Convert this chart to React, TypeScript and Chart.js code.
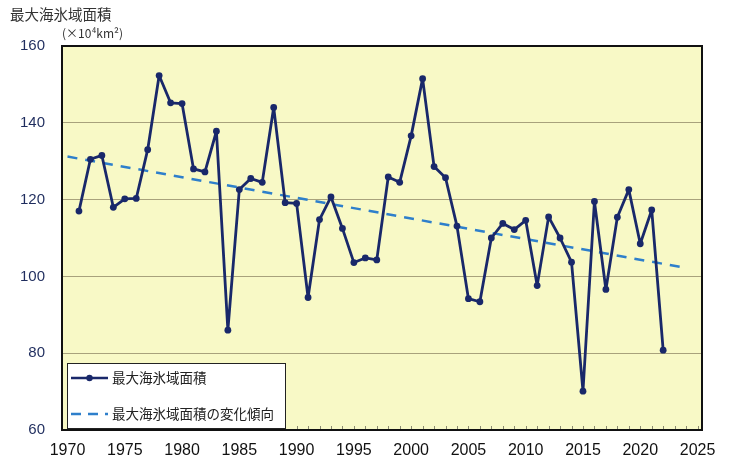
import React, { useEffect, useRef } from "react";
import { Chart, registerables } from "chart.js";

Chart.register(...registerables);

const TITLE = "最大海氷域面積";
const UNIT = "(×10⁴km²)";
const SERIES_LABEL = "最大海氷域面積";
const TREND_LABEL = "最大海氷域面積の変化傾向";

const YEARS = [
  1971, 1972, 1973, 1974, 1975, 1976, 1977, 1978, 1979, 1980,
  1981, 1982, 1983, 1984, 1985, 1986, 1987, 1988, 1989, 1990,
  1991, 1992, 1993, 1994, 1995, 1996, 1997, 1998, 1999, 2000,
  2001, 2002, 2003, 2004, 2005, 2006, 2007, 2008, 2009, 2010,
  2011, 2012, 2013, 2014, 2015, 2016, 2017, 2018, 2019, 2020,
  2021, 2022,
];
const AREAS = [
  117.0, 130.5, 131.5, 118.0, 120.2, 120.3, 133.0, 152.3, 145.2, 145.0,
  128.0, 127.2, 137.8, 86.0, 122.6, 125.5, 124.5, 144.0, 119.2, 119.0,
  94.5, 114.8, 120.7, 112.5, 103.6, 104.8, 104.3, 125.9, 124.5, 136.6,
  151.5, 128.6, 125.7, 113.1, 94.2, 93.4, 110.0, 113.8, 112.2, 114.6,
  97.6, 115.5, 110.0, 103.7, 70.1, 119.5, 96.6, 115.4, 122.6, 108.5,
  117.3, 80.8,
];
const TREND_YEARS = [1970, 2024];
const TREND_VALUES = [131.2, 102.2];
const X_TICKS = [1970, 1975, 1980, 1985, 1990, 1995, 2000, 2005, 2010, 2015, 2020, 2025];
const Y_TICKS = [60, 80, 100, 120, 140, 160];

const NAVY = "#19286a";
const BLUE = "#2e7fcb";
const JP_FONT = '"Noto Sans CJK JP", "Noto Sans", sans-serif';

export default function App() {
  const ref = useRef<HTMLCanvasElement | null>(null);

  useEffect(() => {
    if (!ref.current) return;
    const framePlugin = {
      id: "frame",
      beforeDraw(chart: any) {
        const { ctx, chartArea: a } = chart;
        ctx.save();
        ctx.fillStyle = "#f8f9c6";
        ctx.fillRect(a.left, a.top, a.right - a.left, a.bottom - a.top);
        ctx.restore();
      },
      afterDraw(chart: any) {
        const { ctx, chartArea: a } = chart;
        const xs = chart.scales.x;
        ctx.save();
        // minor year ticks along the bottom
        ctx.strokeStyle = "#8a8a70";
        ctx.lineWidth = 1;
        for (let y = X_TICKS[0]; y <= X_TICKS[X_TICKS.length - 1]; y++) {
          const px = Math.round(xs.getPixelForValue(y)) + 0.5;
          ctx.beginPath();
          ctx.moveTo(px, a.bottom);
          ctx.lineTo(px, a.bottom - 4);
          ctx.stroke();
        }
        // frame
        ctx.strokeStyle = "#111";
        ctx.lineWidth = 2;
        ctx.strokeRect(a.left, a.top, a.right - a.left, a.bottom - a.top);
        // legend
        const lx = a.left + 5;
        const ly = 363;
        const lw = 218;
        const lh = 65;
        ctx.fillStyle = "#ffffff";
        ctx.fillRect(lx, ly, lw, lh);
        ctx.strokeStyle = "#222";
        ctx.lineWidth = 1;
        ctx.strokeRect(lx + 0.5, ly + 0.5, lw, lh);
        const y1 = ly + 15;
        const y2 = ly + 51;
        ctx.strokeStyle = NAVY;
        ctx.lineWidth = 2.5;
        ctx.beginPath();
        ctx.moveTo(lx + 4, y1);
        ctx.lineTo(lx + 41, y1);
        ctx.stroke();
        ctx.fillStyle = NAVY;
        ctx.beginPath();
        ctx.arc(lx + 22.5, y1, 3.2, 0, Math.PI * 2);
        ctx.fill();
        ctx.strokeStyle = BLUE;
        ctx.setLineDash([10, 7]);
        ctx.beginPath();
        ctx.moveTo(lx + 4, y2);
        ctx.lineTo(lx + 41, y2);
        ctx.stroke();
        ctx.setLineDash([]);
        ctx.fillStyle = "#222";
        ctx.font = "13.5px " + JP_FONT;
        ctx.textBaseline = "middle";
        ctx.textAlign = "left";
        ctx.fillText(SERIES_LABEL, lx + 45, y1);
        ctx.fillText(TREND_LABEL, lx + 45, y2);
        ctx.restore();
      },
    };

    const chart = new Chart(ref.current, {
      type: "line",
      data: {
        datasets: [
          {
            label: SERIES_LABEL,
            data: YEARS.map((y, i) => ({ x: y, y: AREAS[i] })),
            borderColor: NAVY,
            backgroundColor: NAVY,
            borderWidth: 2.8,
            borderJoinStyle: "round",
            borderCapStyle: "round",
            pointRadius: 3.4,
            pointBorderWidth: 0,
            pointBackgroundColor: NAVY,
            tension: 0,
            order: 1,
          },
          {
            label: TREND_LABEL,
            data: TREND_YEARS.map((y, i) => ({ x: y, y: TREND_VALUES[i] })),
            borderColor: BLUE,
            borderWidth: 2.5,
            borderDash: [10, 8],
            pointRadius: 0,
            tension: 0,
            order: 2,
          },
        ],
      },
      options: {
        animation: false,
        responsive: false,
        maintainAspectRatio: false,
        events: [],
        layout: { padding: { top: 46, right: 30, left: 0, bottom: 0 } },
        plugins: { legend: { display: false }, tooltip: { enabled: false }, title: { display: false } },
        scales: {
          x: {
            type: "linear",
            min: 1969.52,
            max: 2025.39,
            afterBuildTicks: (s: any) => {
              s.ticks = X_TICKS.map((v) => ({ value: v }));
            },
            afterFit: (s: any) => {
              s.height = 32;
            },
            grid: { display: false, drawTicks: false },
            border: { display: false },
            ticks: {
              padding: 11,
              color: "#111",
              font: { family: '"Liberation Sans", Arial, sans-serif', size: 16 },
              callback: (v: any) => String(v),
              maxRotation: 0,
              autoSkip: false,
            },
          },
          y: {
            min: 60,
            max: 160,
            afterBuildTicks: (s: any) => {
              s.ticks = Y_TICKS.map((v) => ({ value: v }));
            },
            afterFit: (s: any) => {
              s.width = 62;
            },
            grid: { color: "#a8a27c", lineWidth: 1, drawTicks: false },
            border: { display: false },
            ticks: {
              padding: 17,
              color: "#1f2d5e",
              font: { family: '"Liberation Sans", Arial, sans-serif', size: 15 },
            },
          },
        },
      },
      plugins: [framePlugin],
    });
    return () => chart.destroy();
  }, []);

  return (
    <div style={{ position: "absolute", left: 0, top: 0, width: 732, height: 462, background: "#fff", overflow: "hidden" }}>
      <canvas ref={ref} width={732} height={462} style={{ position: "absolute", left: 0, top: 0, width: 732, height: 462 }} />
      <div style={{ position: "absolute", left: 10, top: 5, fontFamily: JP_FONT, fontSize: 14.5, color: "#333", lineHeight: "18px" }}>
        {TITLE}
      </div>
      <div style={{ position: "absolute", left: 62, top: 25, fontFamily: JP_FONT, fontSize: 12, color: "#333", lineHeight: "16px" }}>
        {UNIT}
      </div>
    </div>
  );
}
